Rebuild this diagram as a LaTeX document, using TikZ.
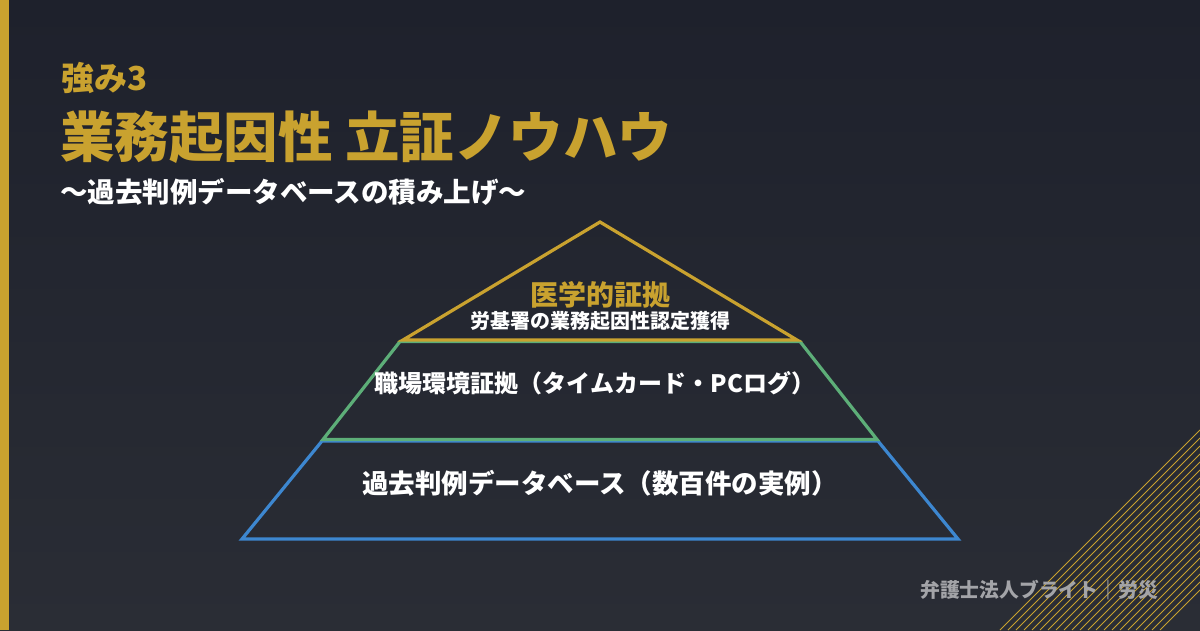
\documentclass[tikz,border=0pt]{standalone}
\usepackage{fontspec}
\setmainfont{Noto Sans CJK JP}
\definecolor{gold}{HTML}{C9A22F}
\definecolor{bgtop}{HTML}{1E212C}
\definecolor{bgbot}{HTML}{2A2D35}
\definecolor{pgreen}{HTML}{5DAE78}
\definecolor{pblue}{HTML}{3D87D0}
\definecolor{footgray}{HTML}{A3A4A8}
\tikzset{
  txt/.style={inner sep=0pt, font=\bfseries},
  layer/.style={line width=3.2pt, line join=miter},
  hatch/.style={draw=gold, line width=1pt}
}
\newcommand{\fs}[1]{\fontsize{#1}{#1}\selectfont}
\begin{document}
\begin{tikzpicture}[x=1pt,y=-1pt]
\useasboundingbox (0,0) rectangle (1200,630);
\shade[top color=bgtop, bottom color=bgbot] (0,0) rectangle (1200,630);
\fill[gold] (0,0) rectangle (9,630);
% hatch in bottom-right corner
\begin{scope}
\clip (0,0) rectangle (1200,630);
\foreach \k in {0,...,20}{
  \draw[hatch] (1200,{430+8*\k}) -- ({1000+8*\k},630);
}
\end{scope}
% titles
\node[txt, anchor=base west, text=gold] (t1) at (61,90) {\fs{33}強み3};
\node[txt, anchor=base west, text=gold] (t2) at (60,157) {\fs{54.5}業務起因性 立証ノウハウ};
\node[txt, anchor=base west, text=white] (t3) at (60,202) {\fs{27.5}〜過去判例データベースの積み上げ〜};
% pyramid
\coordinate (apex) at (600,222);
\coordinate (gL) at (403,340);
\coordinate (gR) at (797,340);
\coordinate (mTL) at (400,341.5);
\coordinate (mTR) at (800,341.5);
\coordinate (mBL) at (323,439.5);
\coordinate (mBR) at (877,439.5);
\coordinate (bTL) at (322,441);
\coordinate (bTR) at (878,441);
\coordinate (bBL) at (242,539);
\coordinate (bBR) at (958,539);
\draw[layer, pblue] (bTL) -- (bTR) -- (bBR) -- (bBL) -- cycle;
\draw[layer, pgreen] (mTL) -- (mTR) -- (mBR) -- (mBL) -- cycle;
\draw[layer, gold] (apex) -- (gR) -- (gL) -- cycle;
\node[txt, anchor=base, text=gold] (p1) at (600,305) {\fs{28}医学的証拠};
\node[txt, anchor=base, text=white] (p2) at (600,328.5) {\fs{20}労基署の業務起因性認定獲得};
\node[txt, anchor=base, text=white] (p3) at (595,392) {\fs{24}職場環境証拠（タイムカード・PCログ）};
\node[txt, anchor=base, text=white] (p4) at (600,493) {\fs{26.5}過去判例データベース（数百件の実例）};
% footer
\node[txt, anchor=base east, text=footgray] (ft) at (1158,597) {\fs{19.8}弁護士法人ブライト｜労災};
\end{tikzpicture}
\end{document}
